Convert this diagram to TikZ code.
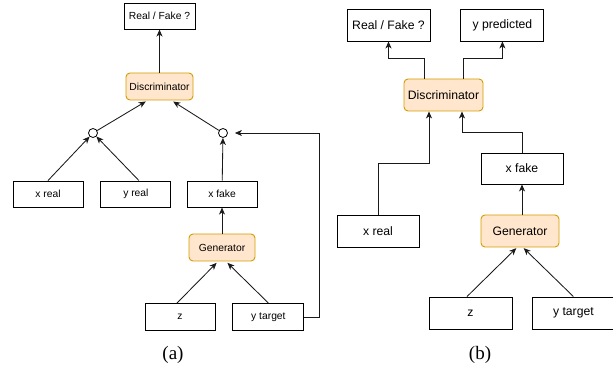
\documentclass[tikz,border=0pt]{standalone}
\usepackage{fontspec}
\setmainfont{Liberation Serif}
\newfontfamily\diagfont{Liberation Sans}
\definecolor{GanFill}{HTML}{FFE6CC}
\definecolor{GanLine}{HTML}{D79B00}
\definecolor{EdgeGrey}{HTML}{1A1A1A}
\usetikzlibrary{positioning, arrows.meta}

\begin{document}
\begin{tikzpicture}[
  x=1pt, y=1pt,
  box/.style    = {draw, line width=0.9pt, fill=white, text=black,
                   inner sep=0pt, align=center},
  boxa/.style   = {box, minimum width=70pt, minimum height=26pt,
                   font=\diagfont\fontsize{10.3}{12}\selectfont},
  boxb/.style   = {box, minimum width=82pt, minimum height=32pt,
                   font=\diagfont\fontsize{12.2}{14}\selectfont},
  net/.style    = {draw=GanLine, fill=GanFill, rounded corners=4pt},
  joint/.style  = {draw, circle, fill=white, line width=0.8pt,
                   inner sep=0pt, minimum size=9pt},
  arrow/.style  = {-{Stealth[length=7pt,width=6pt,inset=2pt]},
                   line width=0.85pt, color=EdgeGrey},
  caption/.style= {font=\fontsize{19}{21}\selectfont}
]
  \useasboundingbox (0,0) rectangle (613,367);

  % Panel (a): conditional inputs joined before the discriminator
  \node[boxa, net, minimum width=67pt, minimum height=27pt] (d1) at (159.5,280.5) {Discriminator};
  \node[boxa, minimum width=71pt, above=43pt of d1] (rf1) {Real / Fake ?};
  \node[joint] (c1) at (93,234) {};
  \node[joint] (c2) at (223,234) {};
  \node[boxa] (xr1) at (48,173) {x real};
  \node[boxa, right=17pt of xr1] (yr1) {y real};
  \node[boxa, net, minimum width=66pt, minimum height=27pt] (g1) at (222,119.5) {Generator};
  \node[boxa, above=26pt of g1] (xf1) {x fake};
  \node[boxa, minimum height=27pt] (z1) at (180,50) {z};
  \node[boxa, minimum height=27pt, minimum width=71pt, right=17pt of z1] (yt1) {y target};

  \draw[arrow] (d1) -- (rf1);
  \draw[arrow, shorten >=2pt] (c1) -- ([xshift=-12pt]d1.south);
  \draw[arrow, shorten >=2pt] (c2) -- ([xshift=12pt]d1.south);
  \draw[arrow] (xr1.north) -- (c1);
  \draw[arrow] ([xshift=3pt]yr1.north) -- (c1);
  \draw[arrow] (xf1) -- (c2);
  \draw[arrow] (g1) -- (xf1);
  \draw[arrow, shorten >=2pt] ([xshift=-3pt]z1.north) -- ([xshift=-4pt]g1.south);
  \draw[arrow, shorten >=2pt] (yt1.north) -- ([xshift=4pt]g1.south);
  \draw[arrow, shorten >=7pt] (yt1.east) -- ++(15.5,0) |- (c2.east);

  \node[caption] (capa) at (173,12.5) {(a)};

  % Panel (b): discriminator also predicts the label
  \node[boxb, net, minimum width=79pt] (d2) at (443.5,272) {Discriminator};
  \node[boxb, minimum width=83pt] (rf2) at (388.5,342) {Real / Fake ?};
  \node[boxb, minimum width=83pt, right=30pt of rf2] (yp2) {y predicted};
  \node[boxb] (xr2) at (378,136) {x real};
  \node[boxb, net, minimum width=78pt] (g2) at (520,136) {Generator};
  \node[boxb, minimum height=31pt] (xf2) at (522,198.5) {x fake};
  \node[boxb, minimum width=83pt] (z2) at (470.5,54) {z};
  \node[boxb, minimum width=81pt, right=20pt of z2] (yt2) {y target};

  \draw[arrow] ([xshift=-19.5pt]d2.north) -- ++(0,20) -| (rf2.south);
  \draw[arrow] ([xshift=19.5pt]d2.north) -- ++(0,20) -| (yp2.south);
  \draw[arrow] (xr2.north) -- ++(0,51) -| ([xshift=-14.5pt]d2.south);
  \draw[arrow] (xf2.north) -- ++(0,20) -| ([xshift=18.5pt]d2.south);
  \draw[arrow] (g2.north -| xf2.south) -- (xf2.south);
  \draw[arrow, shorten >=1pt] ([xshift=-3.5pt]z2.north) -- ([xshift=-3pt]g2.south);
  \draw[arrow, shorten >=1pt] (yt2.north) -- ([xshift=3pt]g2.south);

  \node[caption] (capb) at (480,12.5) {(b)};

\end{tikzpicture}
\end{document}
